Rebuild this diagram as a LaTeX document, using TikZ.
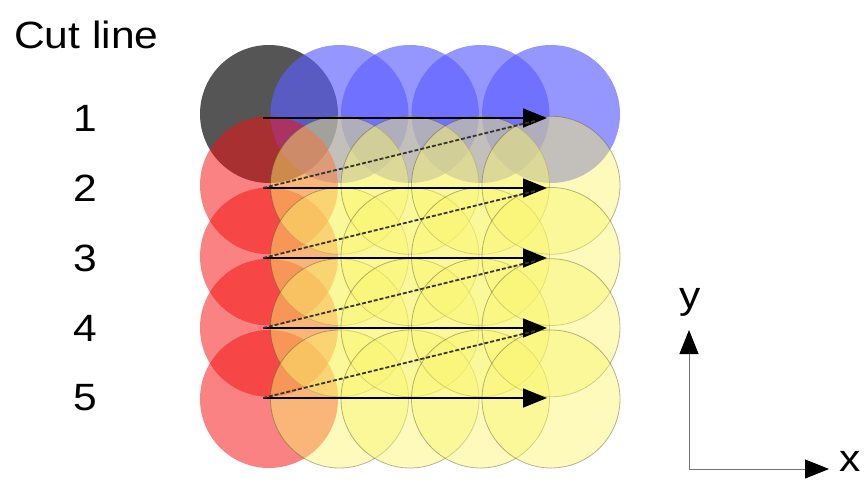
\documentclass[tikz,border=0pt]{standalone}
\usepackage{graphicx}
\usepackage{fontspec}
\setmainfont{Liberation Sans}
\usetikzlibrary{arrows.meta}
\definecolor{startgray}{RGB}{85,85,85}
\definecolor{rowblue}{RGB}{93,93,255}
\definecolor{rowred}{RGB}{245,15,15}
\definecolor{discyellow}{RGB}{250,245,110}
\newcommand{\wide}[1]{\scalebox{1.12}[1]{#1}}
\tikzset{
  lbl/.style={font=\fontsize{38}{40}\selectfont, inner sep=0pt},
  cutarrow/.style={->, line width=1.7pt},
  jumpline/.style={line width=1.8pt, dash pattern=on 4pt off 2pt, draw=black!80!olive, shorten >=12pt},
  axis/.style={->, line width=1pt, draw=black!55},
}
\begin{document}
\begin{tikzpicture}[x=1pt, y=-1pt, >={Triangle[length=24pt, width=19pt, color=black]}]
    \useasboundingbox (0,0) rectangle (867,482);

    % Cut line 1: dark start circle and blue circles
    \fill[startgray] (269,114) circle[radius=69pt];
    \foreach \i in {1,...,4}
        \fill[rowblue, fill opacity=0.65] (269+70.5*\i,114) circle[radius=69pt];

    % Cut lines 2-5: red start circles
    \foreach \j in {1,...,4}
        \fill[rowred, fill opacity=0.52] (269,114+71.25*\j) circle[radius=69pt];

    % Cut lines 2-5: yellow circles
    \foreach \i in {1,...,4}
        \foreach \j in {1,...,4}
            \filldraw[fill=discyellow, fill opacity=0.46, draw=black!45!olive, draw opacity=0.45, line width=0.8pt] (269+70.5*\i,114+71.25*\j) circle[radius=69pt];

    % Row labels and line ends
    \node[lbl, anchor=base west] (title) at (14,48) {\wide{Cut line}};
    \foreach \j/\yy in {1/118, 2/188, 3/258, 4/328, 5/398} {
        \coordinate (s\j) at (263,\yy);
        \coordinate (e\j) at (547,\yy);
        \node[lbl] (n\j) at (85,\yy) {\wide{\j}};
    }

    % Scan direction
    \foreach \j in {1,...,5}
        \draw[cutarrow] (s\j) -- (e\j);
    \foreach \j/\k in {1/2, 2/3, 3/4, 4/5}
        \draw[jumpline] (s\k) -- (e\j);

    % Axes
    \coordinate (o) at (689,469);
    \coordinate (xtip) at (829,469);
    \coordinate (ytip) at (689,330);
    \draw[axis] (o) -- (xtip);
    \draw[axis] (o) -- (ytip);
    \node[lbl, anchor=base] (xlbl) at (850,471) {\wide{x}};
    \node[lbl, anchor=base] (ylbl) at (690,308) {\wide{y}};
\end{tikzpicture}
\end{document}
